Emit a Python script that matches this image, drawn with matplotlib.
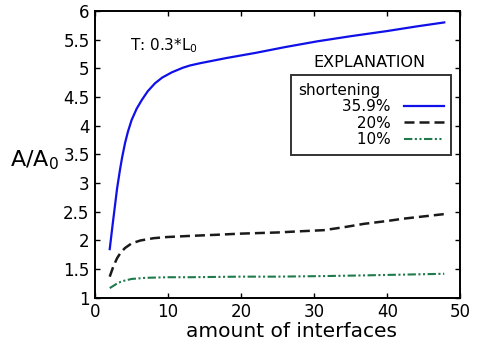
import matplotlib
matplotlib.use('Agg')
import matplotlib.pyplot as plt
from matplotlib.lines import Line2D

plt.rcParams['font.family'] = 'DejaVu Sans'
plt.rcParams['mathtext.fontset'] = 'dejavusans'

# amount of interfaces vs normalised area, for three shortening values
x_blue = [2, 2.4, 2.7, 3.0, 3.4, 3.7, 4.1, 4.5, 5, 5.7, 6.4, 7.2, 8.2, 9.2, 10.5, 12, 13, 14.4,
          16, 18, 22, 26, 30.4, 35, 40, 44, 47.8]
y_blue = [1.85, 2.28, 2.59, 2.90, 3.23, 3.45, 3.70, 3.90, 4.10, 4.30, 4.45, 4.60, 4.74, 4.84, 4.93,
          5.01, 5.05, 5.09, 5.13, 5.18, 5.27, 5.37, 5.47, 5.56, 5.65, 5.73, 5.80]

x_black = [2, 2.5, 3, 3.5, 4.1, 5, 6.2, 8, 9.8, 13, 16.7, 20, 25, 28, 31.3, 34, 36.8, 40, 42.2, 45, 47.8]
y_black = [1.37, 1.55, 1.69, 1.79, 1.87, 1.95, 2.00, 2.04, 2.06, 2.08, 2.10, 2.12, 2.14, 2.16, 2.18,
           2.23, 2.29, 2.34, 2.38, 2.42, 2.46]

x_green = [2, 2.5, 3, 3.5, 4, 5, 6, 7, 10, 13, 20, 25, 31.3, 36, 40, 44, 47.8]
y_green = [1.17, 1.21, 1.25, 1.28, 1.30, 1.33, 1.34, 1.35, 1.36, 1.36, 1.37, 1.37, 1.38, 1.39, 1.40,
           1.41, 1.42]

labels = ['35.9%', '20%', '10%']
BLUE = '#1010e8'
BLACK = '#1a1a1a'
GREEN = '#1f7a4c'

fig = plt.figure(figsize=(4.78, 3.42), dpi=100)
ax = fig.add_axes([0.199, 0.129, 0.764, 0.839])

ax.plot(x_blue, y_blue, color=BLUE, lw=1.6)
ax.plot(x_black, y_black, color=BLACK, lw=1.8, dashes=(4, 2))
ax.plot(x_green, y_green, color=GREEN, lw=1.5, dashes=(4, 1.2, 1, 1.2, 1, 1.2))

ax.set_xlim(0, 50)
ax.set_ylim(1, 6)
ax.set_xticks([0, 10, 20, 30, 40, 50])
ax.set_yticks([1, 1.5, 2, 2.5, 3, 3.5, 4, 4.5, 5, 5.5, 6])
ax.set_yticklabels(['1', '1.5', '2', '2.5', '3', '3.5', '4', '4.5', '5', '5.5', '6'])
ax.tick_params(direction='in', top=True, right=True, length=3.5, width=1,
               labelsize=12, pad=4, colors='black')
for s in ax.spines.values():
    s.set_linewidth(1.4)
    s.set_color('black')

ax.set_xlabel('amount of interfaces', fontsize=14.5)
ax.xaxis.set_label_coords(0.538, -0.083)
ax.set_ylabel(r'A/A$_\mathregular{0}$', fontsize=16, rotation=0, ha='center', va='center')
ax.yaxis.set_label_coords(-0.165, 0.48)

ax.text(0.095, 0.88, r'T: 0.3*L$_\mathregular{0}$', transform=ax.transAxes,
        fontsize=11, ha='left', va='center')
ax.text(0.75, 0.82, 'EXPLANATION', transform=ax.transAxes,
        fontsize=11.5, ha='center', va='center')

handles = [Line2D([], [], color=BLUE, lw=1.6),
           Line2D([], [], color=BLACK, lw=1.8, dashes=(4, 2)),
           Line2D([], [], color=GREEN, lw=1.5, dashes=(4, 1.2, 1, 1.2, 1, 1.2))]
pad = ' ' * 9
leg = ax.legend(handles, [pad + l for l in labels], title='shortening',
                loc='upper right', bbox_to_anchor=(0.975, 0.777), borderaxespad=0,
                markerfirst=False, alignment='left', fontsize=11, title_fontsize=11,
                handlelength=2.6, handletextpad=0.85, labelspacing=0.1,
                borderpad=0.5, fancybox=False, framealpha=1, edgecolor='#333333')
leg.get_frame().set_linewidth(1.4)

fig.savefig('out.png', dpi=100, facecolor='white')
